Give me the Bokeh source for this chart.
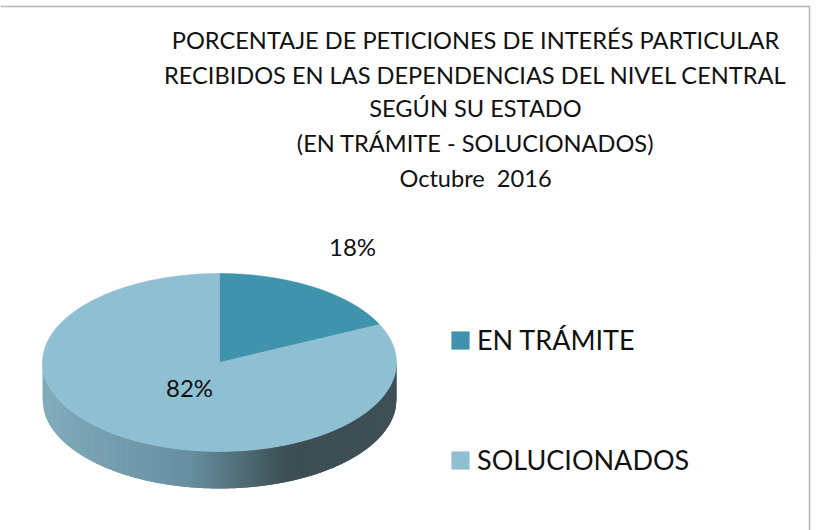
import numpy as np
from bokeh.plotting import figure
from bokeh.models import Range1d, Legend, LegendItem
from bokeh.core.properties import value
from bokeh.embed import file_html
from bokeh.resources import INLINE

categories = ["EN TRÁMITE", "SOLUCIONADOS"]
percentages = [18, 82]
slice_colors = ["#3f93ad", "#8fbfd2"]
title_lines = [
    "PORCENTAJE DE PETICIONES DE INTERÉS PARTICULAR",
    "RECIBIDOS EN LAS DEPENDENCIAS DEL NIVEL CENTRAL",
    "SEGÚN SU ESTADO",
    "(EN TRÁMITE - SOLUCIONADOS)",
    "Octubre\u00a0\u00a02016",
]

W, H = 829, 530
FONT = "Lato"
CX, CY, RX, RY, DEPTH = 219, 362, 177, 89, 37

p = figure(width=W, height=H, output_backend="svg", toolbar_location=None,
           x_range=Range1d(0, W), y_range=Range1d(H, 0), min_border=0,
           outline_line_color=None, background_fill_color="white", border_fill_color="white")
p.axis.visible = False
p.grid.visible = False

# frame
p.line([0, 809, 809], [6, 6, H], line_color="#b5b5b5", line_width=1.5)

# side wall of the disc, shaded from left to right; each strip runs under the next to avoid seams
stops_x = [0.0, 0.42, 0.69, 1.0]
stops_c = np.array([[0x82, 0xab, 0xbb], [0x66, 0x8e, 0x9e], [0x3c, 0x4e, 0x54], [0x3e, 0x50, 0x56]], float)
edges = np.linspace(-1, 1, 121)
step = edges[1] - edges[0]
sx, sy, sc = [], [], []
for a, b in zip(edges[:-1], edges[1:]):
    u = np.linspace(a, min(b + step, 1), 6)
    top = CY + RY * np.sqrt(np.clip(1 - u ** 2, 0, 1))
    x = CX + RX * u
    sx.append(list(x) + list(x[::-1]))
    sy.append(list(top) + list((top + DEPTH)[::-1]))
    t = ((a + b) / 2 + 1) / 2
    c = [int(round(np.interp(t, stops_x, stops_c[:, k]))) for k in range(3)]
    sc.append("#%02x%02x%02x" % tuple(c))
p.patches(sx, sy, fill_color=sc, line_color=None)

# top face slices, clockwise from twelve o'clock
renderers = []
start = 0.0
total = sum(percentages)
for pct, col in zip(percentages, slice_colors):
    end = start + pct / total * 2 * np.pi
    th = np.linspace(start, end, 240)
    xs = [CX] + list(CX + RX * np.sin(th))
    ys = [CY] + list(CY - RY * np.cos(th))
    renderers.append(p.patch(xs, ys, fill_color=col, line_color=col, line_width=0.5))
    start = end

# value labels
label_pos = [(352, 246), (189, 387)]
p.text([q[0] for q in label_pos], [q[1] for q in label_pos], text=[f"{v}%" for v in percentages],
       text_font=value(FONT), text_font_size="24px", text_color="#111111",
       text_align="center", text_baseline="middle")

# title
title_y = [39.5, 74.5, 107, 142, 177]
p.text([475] * len(title_lines), title_y, text=title_lines, text_font=value(FONT),
       text_font_size="23.6px", text_color="#111111", text_align="center", text_baseline="middle")

legend = Legend(items=[LegendItem(label=c, renderers=[r]) for c, r in zip(categories, renderers)],
                location=(449, 54), orientation="vertical", spacing=87, padding=0, margin=0,
                glyph_width=22, glyph_height=22, label_standoff=6,
                label_text_font=FONT, label_text_font_size="27px", label_text_color="#111111",
                border_line_color=None, background_fill_alpha=0)
p.add_layout(legend, "center")

open("out.html", "w").write(file_html(p, INLINE))
